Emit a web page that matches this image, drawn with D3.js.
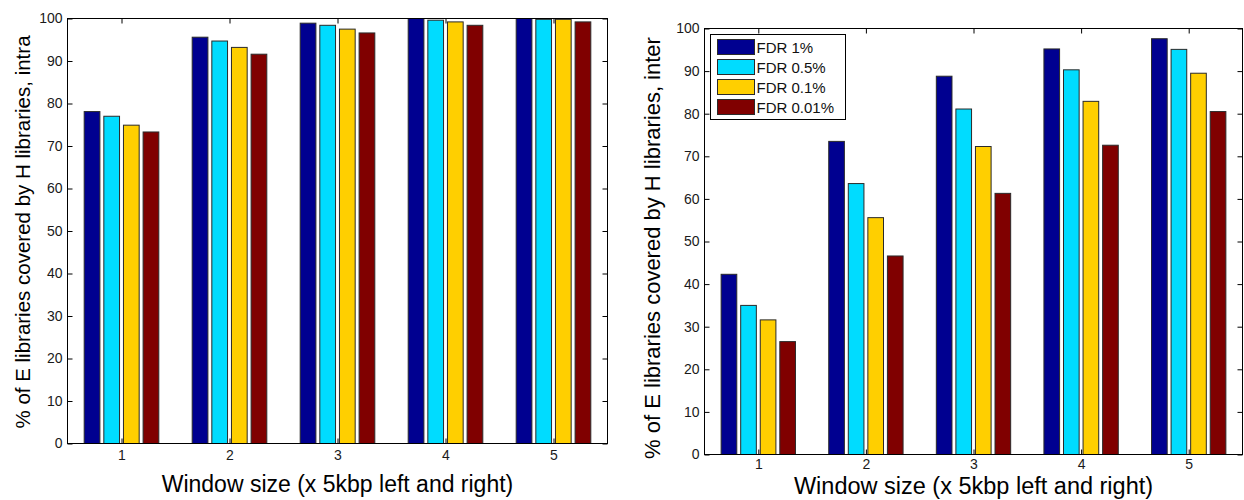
<!DOCTYPE html>
<html>
<head>
<meta charset="utf-8">
<script src="https://cdn.jsdelivr.net/npm/d3@7"></script>
<style>
  html, body { margin: 0; padding: 0; background: #fff; }
  svg { display: block; font-family: "Liberation Sans", Arial, Helvetica, sans-serif; }
</style>
</head>
<body>
<svg id="chart" width="1244" height="500"></svg>
<script>
// ---- data ----
const categories = [1, 2, 3, 4, 5];
const seriesNames = ["FDR 1%", "FDR 0.5%", "FDR 0.1%", "FDR 0.01%"];
const seriesColors = ["#000090", "#00DCFF", "#FFCF00", "#800000"];
const yTicks = [0, 10, 20, 30, 40, 50, 60, 70, 80, 90, 100];

// intra panel (left)
const intraFdr1   = [78.1, 95.6, 98.9, 100.0, 100.0];
const intraFdr05  = [77.0, 94.7, 98.4, 99.6, 99.8];
const intraFdr01  = [74.9, 93.2, 97.5, 99.2, 99.8];
const intraFdr001 = [73.3, 91.6, 96.6, 98.4, 99.2];

// inter panel (right)
const interFdr1   = [42.3, 73.5, 88.8, 95.2, 97.6];
const interFdr05  = [35.0, 63.6, 81.1, 90.3, 95.1];
const interFdr01  = [31.6, 55.6, 72.3, 82.9, 89.5];
const interFdr001 = [26.5, 46.6, 61.3, 72.6, 80.5];

const xLabel = "Window size (x 5kbp left and right)";
const yLabelIntra = "% of E libraries covered by H libraries, intra";
const yLabelInter = "% of E libraries covered by H libraries, inter";

// ---- drawing ----
const svg = d3.select("#chart");

function drawPanel(cfg) {
  const series = cfg.series;
  const x = d3.scaleLinear().domain([0.5, 5.5]).range([cfg.left, cfg.right]);
  const y = d3.scaleLinear().domain([0, 100]).range([cfg.bottom, cfg.top]);
  const nS = series.length;
  const groupWidth = Math.min(0.8, nS / (nS + 1.5));
  const step = groupWidth / nS;
  const barW = step * 0.8;

  const g = svg.append("g");

  // bars
  series.forEach((vals, si) => {
    g.selectAll(null)
      .data(categories.map((c, i) => ({ c, v: vals[i] })))
      .enter().append("rect")
      .attr("x", d => x(d.c + (si - (nS - 1) / 2) * step - barW / 2))
      .attr("width", d => x(d.c + barW) - x(d.c))
      .attr("y", d => y(d.v))
      .attr("height", d => y(0) - y(d.v))
      .attr("fill", seriesColors[si])
      .attr("stroke", "#2a2a2a")
      .attr("stroke-width", 1);
  });

  // axes
  const axL = d3.axisLeft(y).tickValues(yTicks).tickSizeInner(-5).tickSizeOuter(0).tickPadding(5);
  const axR = d3.axisRight(y).tickValues(yTicks).tickSizeInner(-5).tickSizeOuter(0).tickFormat("");
  const axB = d3.axisBottom(x).tickValues(categories).tickSizeInner(-5).tickSizeOuter(0).tickPadding(cfg.xPad).tickFormat(d3.format("d"));
  const axT = d3.axisTop(x).tickValues(categories).tickSizeInner(-5).tickSizeOuter(0).tickFormat("");

  function style(sel) {
    sel.selectAll(".domain").remove();
    sel.selectAll("line").attr("stroke", "#000").attr("stroke-width", 1);
    sel.selectAll("text").attr("fill", "#1a1a1a").attr("font-size", cfg.tickFont + "px")
      .attr("font-family", "Liberation Sans, Arial, sans-serif");
  }
  g.append("g").attr("transform", `translate(${cfg.left},0)`).call(axL).call(style);
  g.append("g").attr("transform", `translate(${cfg.right},0)`).call(axR).call(style);
  g.append("g").attr("transform", `translate(0,${cfg.bottom})`).call(axB).call(style);
  g.append("g").attr("transform", `translate(0,${cfg.top})`).call(axT).call(style);

  g.append("rect")
    .attr("x", cfg.left).attr("y", cfg.top)
    .attr("width", cfg.right - cfg.left).attr("height", cfg.bottom - cfg.top)
    .attr("fill", "none").attr("stroke", "#000").attr("stroke-width", 1);

  // axis labels
  g.append("text")
    .attr("x", (cfg.left + cfg.right) / 2)
    .attr("y", cfg.xLabelY)
    .attr("text-anchor", "middle")
    .attr("font-size", cfg.xLabelFont + "px")
    .attr("fill", "#000")
    .text(xLabel);

  g.append("text")
    .attr("transform", `translate(${cfg.yLabelX},${cfg.yLabelCY}) rotate(-90)`)
    .attr("text-anchor", "middle")
    .attr("dominant-baseline", "central")
    .attr("font-size", cfg.yLabelFont + "px")
    .attr("fill", "#000")
    .text(cfg.yLabel);

  return { x, y };
}

drawPanel({
  series: [intraFdr1, intraFdr05, intraFdr01, intraFdr001],
  left: 67.5, right: 607.5, top: 18.5, bottom: 443.5,
  xPad: 7, tickFont: 14, xLabelFont: 23, yLabelFont: 20.5,
  xLabelY: 492, yLabelX: 22, yLabelCY: 232,
  yLabel: yLabelIntra
});

drawPanel({
  series: [interFdr1, interFdr05, interFdr01, interFdr001],
  left: 704.5, right: 1242.5, top: 28.5, bottom: 454.5,
  xPad: 5, tickFont: 14, xLabelFont: 23.5, yLabelFont: 22,
  xLabelY: 494, yLabelX: 652, yLabelCY: 248,
  yLabel: yLabelInter
});

// legend (right panel)
const leg = svg.append("g").attr("transform", "translate(710.5,34.5)");
leg.append("rect").attr("width", 135).attr("height", 85)
  .attr("fill", "#fff").attr("stroke", "#000").attr("stroke-width", 1);
seriesNames.forEach((name, i) => {
  const cy = 12.5 + i * 20;
  leg.append("rect").attr("x", 7).attr("y", cy - 7.5).attr("width", 37).attr("height", 15)
    .attr("fill", seriesColors[i]).attr("stroke", "#2a2a2a").attr("stroke-width", 1);
  leg.append("text").attr("x", 46).attr("y", cy).attr("dominant-baseline", "central")
    .attr("font-size", "15px").attr("fill", "#111").text(name);
});
</script>
</body>
</html>
